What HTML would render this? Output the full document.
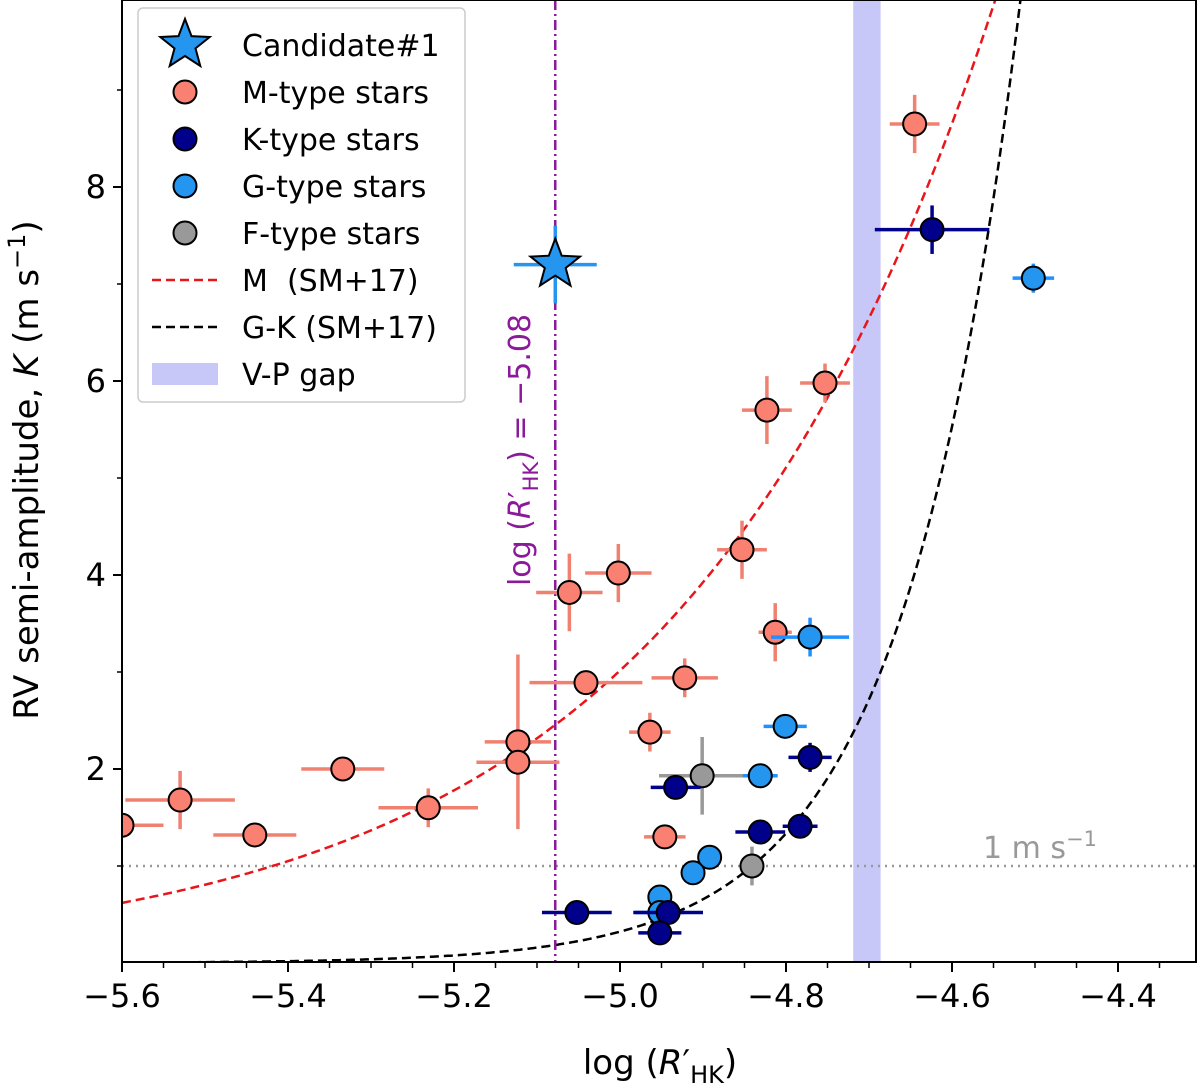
<!DOCTYPE html>
<html><head><meta charset="utf-8"><style>
body{margin:0;background:#fff;}
svg{display:block;font-family:"DejaVu Sans","Liberation Sans",sans-serif;}
</style></head><body>
<svg id="chart" width="1200" height="1090" viewBox="0 0 1200 1090" xmlns="http://www.w3.org/2000/svg"></svg>
<script>
const xTicks=[-5.6,-5.4,-5.2,-5.0,-4.8,-4.6,-4.4];
const xTickLabels=["\u22125.6","\u22125.4","\u22125.2","\u22125.0","\u22124.8","\u22124.6","\u22124.4"];
const yTicks=[2,4,6,8];
const yTickLabels=["2","4","6","8"];
const yMinor=[1,3,5,7,9];
const mX=[-5.6,-5.530,-5.440,-5.334,-5.231,-5.123,-5.123,-5.061,-5.041,-5.002,-4.964,-4.922,-4.946,-4.853,-4.823,-4.813,-4.753,-4.645];
const mY=[1.42,1.68,1.32,2.0,1.6,2.28,2.07,3.82,2.89,4.02,2.38,2.94,1.3,4.26,5.7,3.41,5.98,8.65];
const mXe=[0.05,0.066,0.05,0.05,0.06,0.04,0.05,0.04,0.068,0.04,0.025,0.04,0.025,0.03,0.03,0.02,0.03,0.03];
const mYe=[0,0.3,0,0,0.2,0.9,0,0.4,0,0.3,0.2,0.2,0,0.3,0.35,0.3,0.2,0.3];
const kX=[-4.624,-4.771,-4.783,-4.831,-4.933,-5.052,-4.942,-4.952];
const kY=[7.56,2.12,1.41,1.35,1.81,0.52,0.52,0.31];
const kXe=[0.069,0.026,0.021,0.03,0.03,0.042,0.042,0.026];
const kYe=[0.25,0.15,0,0,0,0,0,0];
const gX=[-4.502,-4.771,-4.801,-4.831,-4.892,-4.912,-4.952,-4.952];
const gY=[7.06,3.36,2.44,1.93,1.09,0.93,0.68,0.52];
const gXe=[0.025,0.047,0.026,0.021,0,0,0,0.03];
const gYe=[0.15,0.2,0,0.1,0,0,0,0];
const fX=[-4.901,-4.841];
const fY=[1.93,1.0];
const fXe=[0.052,0];
const fYe=[0.4,0.2];
const candX=[-5.078], candY=[7.2], candXe=[0.05], candYe=[0.4];

const L=122,R=1196,T=0,B=962;
const X=v=>122+(v+5.6)*830;
const Y=v=>963-v*97;
const svg=document.getElementById('chart');
const NS='http://www.w3.org/2000/svg';
function mk(tag,attrs,parent){const e=document.createElementNS(NS,tag);for(const k in attrs)e.setAttribute(k,attrs[k]);(parent||svg).appendChild(e);return e;}

const defs=mk('defs',{});const cp=mk('clipPath',{id:'clip'},defs);mk('rect',{x:L,y:T,width:R-L,height:B-T},cp);
const plot=mk('g',{'clip-path':'url(#clip)'});



const band=mk('rect',{x:X(-4.719),y:T,width:X(-4.686)-X(-4.719),height:B-T,fill:'#c8c8f8'},plot);



const one=mk('line',{x1:L,x2:R,y1:Y(1),y2:Y(1),stroke:'#999','stroke-width':2.5,'stroke-dasharray':'2,5'},plot);



function curve(a,b,color,name){let d='';for(let px=L;px<=R;px+=2){const x=-5.6+(px-122)/830;const k=Math.exp(a+b*(x+5.6));d+=(d?'L':'M')+px+','+Y(k).toFixed(1);}
 const p=mk('path',{d:d,fill:'none',stroke:color,'stroke-width':2.5,'stroke-dasharray':'9,5'},plot);
 
 }
curve(-0.478,2.636,'#e8161b','m-curve');
curve(-5.39,7.1,'#000','gk-curve');

const al=mk('line',{x1:X(-5.078),x2:X(-5.078),y1:T,y2:B,stroke:'#8b1a9b','stroke-width':2.5,'stroke-dasharray':'10,4,2,4'},plot);



function series(xs,ys,xe,ye,ecol,fill,name){
 for(let i=0;i<xs.length;i++){
  const g=mk('g',{},plot);
  
  
  if(xe[i])mk('line',{x1:X(xs[i]-xe[i]),x2:X(xs[i]+xe[i]),y1:Y(ys[i]),y2:Y(ys[i]),stroke:ecol,'stroke-width':3.5},g);
  if(ye[i])mk('line',{x1:X(xs[i]),x2:X(xs[i]),y1:Y(ys[i]-ye[i]),y2:Y(ys[i]+ye[i]),stroke:ecol,'stroke-width':3.5},g);
  mk('circle',{cx:X(xs[i]),cy:Y(ys[i]),r:11.5,fill:fill,stroke:'#000','stroke-width':2},g);
 }
}
series(mX,mY,mXe,mYe,'#f08070','#fa8072','m-type');
series(fX,fY,fXe,fYe,'#999','#999','f-type');
series(gX,gY,gXe,gYe,'#1e90ff','#2596f0','g-type');
series(kX,kY,kXe,kYe,'#00008b','#00008b','k-type');

function starPath(cx,cy,r1,r2){let d='';for(let i=0;i<10;i++){const r=i%2?r2:r1;const a=-Math.PI/2+i*Math.PI/5;d+=(i?'L':'M')+(cx+r*Math.cos(a)).toFixed(1)+','+(cy+r*Math.sin(a)).toFixed(1);}return d+'Z';}
{const g=mk('g',{},plot);
 
 
 mk('line',{x1:X(candX[0]-candXe[0]),x2:X(candX[0]+candXe[0]),y1:Y(candY[0]),y2:Y(candY[0]),stroke:'#2596f0','stroke-width':3.5},g);
 mk('line',{x1:X(candX[0]),x2:X(candX[0]),y1:Y(candY[0]-candYe[0]),y2:Y(candY[0]+candYe[0]),stroke:'#2596f0','stroke-width':3.5},g);
 mk('path',{d:starPath(X(candX[0]),Y(candY[0]),26,11),fill:'#2596f0',stroke:'#000','stroke-width':2},g);}

const ol=mk('text',{x:1040,y:858,'font-size':30,fill:'#999','text-anchor':'middle'});
ol.innerHTML='1 m s<tspan dy="-12" font-size="21">\u22121</tspan>';



const rl=mk('text',{x:0,y:0,'font-size':30,fill:'#8b1a9b','text-anchor':'middle',transform:'translate(530,450) rotate(-90)'});
rl.innerHTML='log (<tspan font-style="italic">R</tspan>\u2032<tspan dy="8" font-size="21">HK</tspan><tspan dy="-8">) = \u22125.08</tspan>';



const fr=mk('rect',{x:L,y:T,width:R-L,height:B-T,fill:'none',stroke:'#000','stroke-width':2});



xTicks.forEach((v,i)=>{
 const t=mk('line',{x1:X(v),x2:X(v),y1:B,y2:B+10,stroke:'#000','stroke-width':2});
 
 
 const tx=mk('text',{x:X(v),y:B+45,'font-size':32,'text-anchor':'middle'});tx.textContent=xTickLabels[i];
 
 
});
for(let k=0;k<=26;k++){const v=-5.6+k*0.05;if(k%4===0)continue;
 const t=mk('line',{x1:X(v),x2:X(v),y1:B,y2:B+6,stroke:'#000','stroke-width':1.5});
 
 
}
yTicks.forEach((v,i)=>{
 const t=mk('line',{x1:L-9,x2:L,y1:Y(v),y2:Y(v),stroke:'#000','stroke-width':2});
 
 
 const tx=mk('text',{x:L-16,y:Y(v)+11,'font-size':32,'text-anchor':'end'});tx.textContent=yTickLabels[i];
 
 
});
yMinor.forEach(v=>{
 const t=mk('line',{x1:L-5,x2:L,y1:Y(v),y2:Y(v),stroke:'#000','stroke-width':1.5});
 
 
});

const xl=mk('text',{x:660,y:1074,'font-size':34,'text-anchor':'middle'});
xl.innerHTML='log (<tspan font-style="italic">R</tspan>\u2032<tspan dy="9" font-size="24">HK</tspan><tspan dy="-9">)</tspan>';


const yl=mk('text',{x:0,y:0,'font-size':34,'text-anchor':'middle',transform:'translate(38,470) rotate(-90)'});
yl.innerHTML='RV semi-amplitude, <tspan font-style="italic">K</tspan> (m s<tspan dy="-13" font-size="24">\u22121</tspan><tspan dy="13">)</tspan>';



const lg=mk('g',{});


mk('rect',{x:138,y:8,width:327,height:394,rx:5,fill:'#fff','fill-opacity':0.85,stroke:'#ccc','stroke-width':1.5},lg);
const labs=['Candidate#1','M-type stars','K-type stars','G-type stars','F-type stars','M\u00a0\u00a0(SM+17)','G-K (SM+17)','V-P gap'];
labs.forEach((s,i)=>{
 const cy=45+i*47;
 const e=mk('g',{},lg);
 
 
 if(i==0)mk('path',{d:starPath(185,cy,26,11),fill:'#2596f0',stroke:'#000','stroke-width':2},e);
 else if(i<5)mk('circle',{cx:185,cy:cy,r:11.5,fill:['','#fa8072','#00008b','#2596f0','#999'][i],stroke:'#000','stroke-width':2},e);
 else if(i<7)mk('line',{x1:152,x2:218,y1:cy,y2:cy,stroke:i==5?'#e8161b':'#000','stroke-width':2.5,'stroke-dasharray':'9,5'},e);
 else mk('rect',{x:152,y:cy-11,width:66,height:22,fill:'#c8c8f8'},e);
 const t=mk('text',{x:242,y:cy+11,'font-size':30},e);t.textContent=s;
});
</script>
</body></html>
